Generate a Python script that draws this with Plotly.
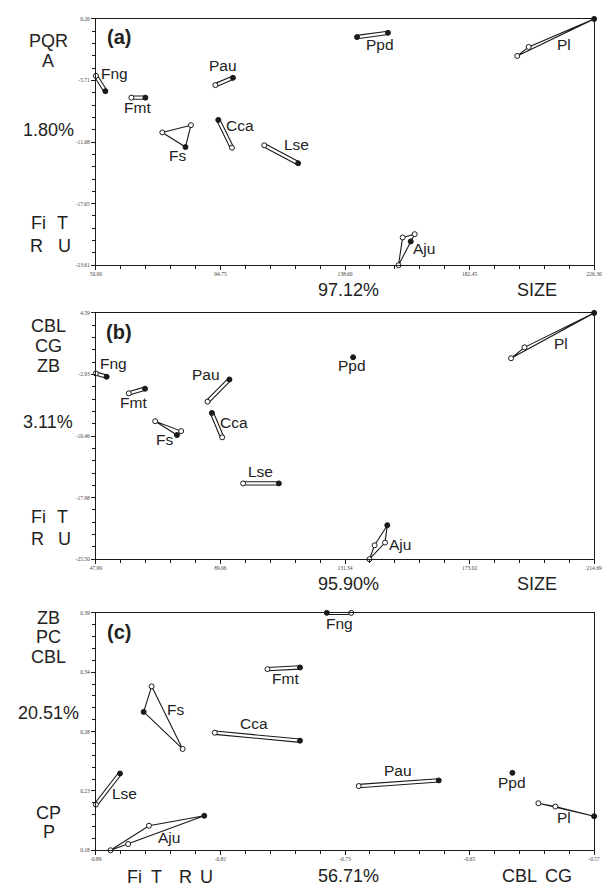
import plotly.graph_objects as go
import numpy as np

W, H = 608, 891

# ---------------- data ----------------
SPECIES = ["Fng", "Fmt", "Fs", "Pau", "Cca", "Lse", "Ppd", "Pl", "Aju"]

# panel (a): SIZE vs PQR/A
A_X = {"Fng": [50.90, 54.24], "Fmt": [63.39, 68.34], "Fs": [74.29, 84.36, 82.44],
       "Pau": [92.96, 99.15], "Cca": [93.99, 98.81], "Lse": [110.16, 122.09],
       "Ppd": [142.83, 153.73], "Pl": [199.23, 203.25, 226.30],
       "Aju": [157.41, 158.89, 163.12, 161.74]}
A_Y = {"Fng": [-5.26, -6.74], "Fmt": [-7.37, -7.37], "Fs": [-10.74, -10.04, -12.16],
       "Pau": [-6.16, -5.45], "Cca": [-9.53, -12.22], "Lse": [-11.99, -13.73],
       "Ppd": [-1.50, -1.09], "Pl": [-3.33, -2.46, 0.26],
       "Aju": [-23.61, -20.92, -20.60, -21.30]}
A_FILLED = {"Fng": [0, 1], "Fmt": [0, 1], "Fs": [0, 0, 1], "Pau": [0, 1], "Cca": [1, 0],
            "Lse": [0, 1], "Ppd": [1, 1], "Pl": [0, 0, 1], "Aju": [0, 0, 0, 1]}

# panel (b): SIZE vs CBL/CG/ZB
B_X = {"Fng": [47.99, 51.59], "Fmt": [59.00, 64.43], "Fs": [67.83, 76.52, 75.12],
       "Pau": [85.35, 92.67], "Cca": [86.79, 90.26], "Lse": [97.25, 109.21],
       "Ppd": [134.05], "Pl": [186.90, 191.38, 214.69],
       "Aju": [139.51, 141.24, 145.49, 144.74]}
B_Y = {"Fng": [-2.81, -3.21], "Fmt": [-5.24, -4.67], "Fs": [-8.64, -9.85, -10.33],
       "Pau": [-6.25, -3.54], "Cca": [-7.63, -10.61], "Lse": [-16.24, -16.24],
       "Ppd": [-0.83], "Pl": [-0.95, 0.38, 4.59],
       "Aju": [-25.50, -23.80, -21.34, -23.47]}
B_FILLED = {"Fng": [0, 1], "Fmt": [0, 1], "Fs": [0, 0, 1], "Pau": [0, 1], "Cca": [1, 0],
            "Lse": [0, 1], "Ppd": [1], "Pl": [0, 0, 1], "Aju": [0, 0, 1, 0]}

# panel (c): CBL/CG vs ZB/PC/CBL
C_X = {"Fng": [-0.7417, -0.7260], "Fmt": [-0.7798, -0.7589], "Fs": [-0.8542, -0.8593, -0.8343],
       "Pau": [-0.7212, -0.6698], "Cca": [-0.8136, -0.7589], "Lse": [-0.8900, -0.8745],
       "Ppd": [-0.6225], "Pl": [-0.6058, -0.5949, -0.5700],
       "Aju": [-0.8806, -0.8559, -0.8204, -0.8693]}
C_Y = {"Fng": [0.390, 0.390], "Fmt": [0.3402, 0.3417], "Fs": [0.3250, 0.3024, 0.2696],
       "Pau": [0.2368, 0.2418], "Cca": [0.2840, 0.2769], "Lse": [0.2204, 0.2479],
       "Ppd": [0.2485], "Pl": [0.2216, 0.2187, 0.2101],
       "Aju": [0.1800, 0.2017, 0.2105, 0.1855]}
C_FILLED = {"Fng": [1, 0], "Fmt": [0, 1], "Fs": [0, 1, 0], "Pau": [0, 1], "Cca": [0, 1],
            "Lse": [0, 1], "Ppd": [1], "Pl": [0, 0, 1], "Aju": [0, 0, 1, 0]}

# tick labels
A_XTICKS = [50.90, 94.75, 138.60, 182.45, 226.30]
A_XTEXT = ["50.90", "94.75", "138.60", "182.45", "226.30"]
A_YTICKS = [-23.61, -17.65, -11.68, -5.71, 0.26]
A_YTEXT = ["-23.61", "-17.65", "-11.68", "-5.71", "0.26"]
B_XTICKS = [47.99, 89.66, 131.34, 173.02, 214.69]
B_XTEXT = ["47.99", "89.66", "131.34", "173.02", "214.69"]
B_YTICKS = [-25.50, -17.98, -10.46, -2.93, 4.59]
B_YTEXT = ["-25.50", "-17.98", "-10.46", "-2.93", "4.59"]
C_XTICKS = [-0.89, -0.81, -0.73, -0.65, -0.57]
C_XTEXT = ["-0.89", "-0.81", "-0.73", "-0.65", "-0.57"]
C_YTEXT = ["0.18", "0.23", "0.28", "0.34", "0.39"]
C_YRANGE = [0.18, 0.39]

# ---------------- styles ----------------
KIND_A = {"Fng": "tube", "Fmt": "tube", "Fs": "poly", "Pau": "tube", "Cca": "tube",
          "Lse": "tube", "Ppd": "tube", "Pl": "poly", "Aju": "poly"}
KIND_B = dict(KIND_A, Ppd="point")
KIND_C = dict(KIND_A, Ppd="point")

INK = "#1a1a1a"
TXT = "#222222"
SANS = "Liberation Sans"
SERIF = "Liberation Serif"

fig = go.Figure()


def add_species(xs, ys, filled, kind, xa, ya):
    for sp in SPECIES:
        x, y, f, k = xs[sp], ys[sp], filled[sp], kind[sp]
        if k == "tube":
            fig.add_trace(go.Scatter(x=x, y=y, mode="lines", xaxis=xa, yaxis=ya,
                                     line=dict(color=INK, width=4.4), hoverinfo="skip"))
            fig.add_trace(go.Scatter(x=x, y=y, mode="lines", xaxis=xa, yaxis=ya,
                                     line=dict(color="white", width=2.2), hoverinfo="skip"))
        elif k == "poly":
            fig.add_trace(go.Scatter(x=x + [x[0]], y=y + [y[0]], mode="lines", xaxis=xa, yaxis=ya,
                                     line=dict(color=INK, width=1.1), hoverinfo="skip"))
        cols = [INK if v else "white" for v in f]
        fig.add_trace(go.Scatter(x=x, y=y, mode="markers", xaxis=xa, yaxis=ya, cliponaxis=False,
                                 marker=dict(size=5, color=cols, symbol="circle",
                                             line=dict(color=INK, width=1)),
                                 hoverinfo="skip"))


add_species(A_X, A_Y, A_FILLED, KIND_A, "x", "y")
add_species(B_X, B_Y, B_FILLED, KIND_B, "x2", "y2")
add_species(C_X, C_Y, C_FILLED, KIND_C, "x3", "y3")


def px(x):
    return x / W


def py(y):
    return 1 - y / H


XDOM = [px(92), px(602)]
DOMS = {"a": [py(264), py(16)], "b": [py(560), py(312)], "c": [py(853), py(614)]}

TICKFONT = dict(family=SERIF, size=5.5, color="#444")


def axis(dom, tickvals, ticktext, rng, anchor, is_x):
    d = dict(domain=dom, range=rng, anchor=anchor, showgrid=False, zeroline=False,
             showline=True, linecolor=INK, linewidth=1, mirror=True,
             ticks="outside", ticklen=4 if not is_x else 3.5, tickwidth=1, tickcolor=INK,
             tickmode="array", tickvals=tickvals, ticktext=ticktext, tickfont=TICKFONT,
             minor=dict(tickmode="linear", tick0=rng[0], dtick=(rng[1] - rng[0]) / 20,
                        ticks="outside", ticklen=3, tickwidth=1, tickcolor=INK, showgrid=False),
             fixedrange=True)
    return d


c_yticks = list(np.linspace(C_YRANGE[0], C_YRANGE[1], len(C_YTEXT)))

fig.update_layout(
    width=W, height=H, margin=dict(l=0, r=0, t=0, b=0),
    paper_bgcolor="white", plot_bgcolor="white", showlegend=False,
    xaxis=axis(XDOM, A_XTICKS, A_XTEXT, [A_XTICKS[0], A_XTICKS[-1]], "y", True),
    yaxis=axis(DOMS["a"], A_YTICKS, A_YTEXT, [A_YTICKS[0], A_YTICKS[-1]], "x", False),
    xaxis2=axis(XDOM, B_XTICKS, B_XTEXT, [B_XTICKS[0], B_XTICKS[-1]], "y2", True),
    yaxis2=axis(DOMS["b"], B_YTICKS, B_YTEXT, [B_YTICKS[0], B_YTICKS[-1]], "x2", False),
    xaxis3=axis(XDOM, C_XTICKS, C_XTEXT, [C_XTICKS[0], C_XTICKS[-1]], "y3", True),
    yaxis3=axis(DOMS["c"], c_yticks, C_YTEXT, C_YRANGE, "x3", False),
)

ann = []
DY = -2  # small vertical nudge so glyph centres match


def txt(s, x, y, size, bold=False):
    ann.append(dict(text=f"<b>{s}</b>" if bold else s, x=px(x), y=py(y + DY), xref="paper", yref="paper",
                    xanchor="center", yanchor="middle", showarrow=False,
                    font=dict(family=SANS, size=size, color=TXT)))


# species labels (pixel positions of label centres)
LABELS = [
    ("Fng", 111, 72.5), ("Fmt", 135, 107), ("Fs", 176, 156), ("Pau", 222.5, 65),
    ("Cca", 240, 125), ("Lse", 297.5, 144), ("Ppd", 383, 44), ("Pl", 571, 44), ("Aju", 428, 249),
    ("Fng", 110, 365), ("Fmt", 131, 404), ("Fs", 162, 441), ("Pau", 205, 376),
    ("Cca", 233, 424), ("Lse", 261, 473.5), ("Ppd", 354.5, 367), ("Pl", 568, 345), ("Aju", 403, 547.5),
    ("Fng", 341, 626.5), ("Fmt", 286, 681.7), ("Fs", 174, 713), ("Cca", 253.7, 727.5),
    ("Lse", 121, 798), ("Aju", 167, 842), ("Pau", 401, 775), ("Ppd", 518, 787), ("Pl", 571, 821.7),
]
for s, x, y in LABELS:
    txt(s, x, y, 15.5)

# panel letters
txt("(a)", 115.8, 36.5, 20, bold=True)
txt("(b)", 115.5, 333, 20, bold=True)
txt("(c)", 115.5, 635, 20, bold=True)

# axis descriptors
AX_TEXT = [
    ("PQR", 43.3, 40), ("A", 43.3, 60), ("1.80%", 44, 129.7),
    ("Fi", 33, 223), ("T", 57.5, 223), ("R", 31.7, 246.3), ("U", 59.5, 246.3),
    ("97.12%", 351, 291), ("SIZE", 543.3, 291),
    ("CBL", 43.8, 327.5), ("CG", 44, 347), ("ZB", 44, 367), ("3.11%", 43.3, 424),
    ("Fi", 33.3, 519), ("T", 57.8, 519), ("R", 32, 542), ("U", 59.5, 542),
    ("95.90%", 351, 587), ("SIZE", 543.3, 587),
    ("ZB", 44, 621), ("PC", 44, 640.5), ("CBL", 43.8, 660), ("20.51%", 43.8, 717),
    ("CP", 44, 817.7), ("P", 43.7, 837),
    ("Fi", 131.5, 881.7), ("T", 154.5, 881.7), ("R", 183.5, 881.7), ("U", 205.5, 881.7),
    ("56.71%", 351, 880.5), ("CBL", 526, 880.5), ("CG", 566, 880.5),
]
for s, x, y in AX_TEXT:
    txt(s, x, y, 18)

fig.update_layout(annotations=ann)
fig.write_html(
    "out.html",
    config={"displayModeBar": False},
    post_script="document.body.style.margin='0';document.body.style.overflow='hidden';",
)
